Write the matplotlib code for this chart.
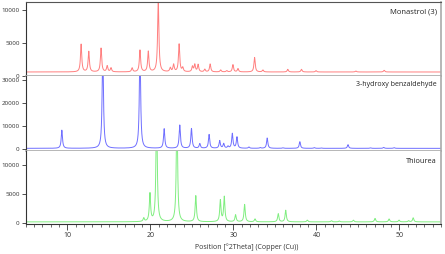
import matplotlib
matplotlib.use("Agg")
import matplotlib.pyplot as plt
from matplotlib.ticker import MultipleLocator
import numpy as np

# peak positions (deg 2theta) and heights (counts above baseline)
monastrol_pos = [11.66, 12.58, 14.06, 14.8, 15.26, 17.8, 18.75, 19.75, 20.95, 22.4,
                 22.8, 23.46, 23.9, 25.07, 25.35, 25.75, 26.55, 27.2, 28.47, 29.2,
                 29.94, 30.55, 32.55, 33.55, 36.55, 38.2, 39.95, 44.75, 48.15]
monastrol_int = [4200, 3100, 3600, 900, 600, 600, 3300, 3100, 11000, 600,
                 1100, 4200, 600, 800, 1100, 1100, 400, 1200, 300, 200,
                 1100, 500, 2200, 300, 400, 400, 200, 150, 250]
monastrol_base = 600

hba_pos = [9.34, 14.27, 18.75, 21.66, 23.54, 24.95, 25.95, 27.07, 28.35, 28.83,
           29.35, 29.87, 30.43, 31.87, 33.24, 34.07, 35.95, 38.0, 39.75, 40.6,
           43.8, 46.5, 48.1, 49.35]
hba_int = [7900, 45000, 45000, 8500, 10100, 8600, 2000, 6000, 3300, 2000,
           800, 6400, 4900, 550, 300, 4500, 200, 2900, 300, 150,
           1600, 200, 400, 300]
hba_base = 200

thio_pos = [19.2, 19.95, 20.75, 23.2, 25.47, 28.43, 28.9, 30.26, 31.35, 32.6,
            35.4, 36.3, 38.9, 41.8, 42.75, 44.45, 47.05, 48.75, 49.95, 51.1, 51.65]
thio_int = [600, 4800, 20000, 20000, 4500, 3700, 4300, 1200, 3000, 500,
            1400, 2000, 300, 200, 150, 300, 600, 500, 300, 200, 700]
thio_base = 200

labels = ["Monastrol (3)", "3-hydroxy benzaldehyde", "Thiourea"]
colors = ["#ff7f7f", "#6f6fff", "#80ee80"]


def pattern(x, pos, inten, base, width=0.09):
    y = np.full_like(x, base, dtype=float)
    for p, h in zip(pos, inten):
        y += h / (1 + ((x - p) / width) ** 2)
    return y


x = np.arange(5, 55.001, 0.005)
traces = [pattern(x, monastrol_pos, monastrol_int, monastrol_base),
          pattern(x, hba_pos, hba_int, hba_base),
          pattern(x, thio_pos, thio_int, thio_base)]

fig = plt.figure(figsize=(4.45, 2.54), dpi=100)
plt.rcParams['font.family'] = ['Open Sans', 'DejaVu Sans']

left, width = 0.058, 0.933
boxes = [(0.701, 0.291), (0.406, 0.295), (0.118, 0.288)]
ylims = [(0, 11200), (-900, 31700), (-170, 12450)]
yticks = [[0, 5000, 10000], [0, 10000, 20000, 30000], [0, 5000, 10000]]
label_y = [0.86, 0.89, 0.85]
label_size = [5.5, 5.0, 5.3]

for i, ax_box in enumerate(boxes):
    ax = fig.add_axes([left, ax_box[0], width, ax_box[1]])
    ax.plot(x, traces[i], color=colors[i], lw=0.7)
    ax.set_xlim(5, 55)
    ax.set_ylim(*ylims[i])
    ax.set_yticks(yticks[i])
    ax.tick_params(axis='y', labelsize=4.5, length=3, width=0.6,
                   colors='#333333', pad=1.5)
    for s in ['top', 'right', 'bottom']:
        ax.spines[s].set_color('#aaaaaa')
        ax.spines[s].set_linewidth(1.2)
    ax.spines['left'].set_color('#333333')
    ax.spines['left'].set_linewidth(0.8)
    if i == 0:
        ax.spines['top'].set_color('#555555')
        ax.spines['top'].set_linewidth(0.8)
    else:
        ax.spines['top'].set_visible(False)
    ax.text(0.99, label_y[i], labels[i], transform=ax.transAxes,
            ha='right', va='center', fontsize=label_size[i], color='#222222')
    if i < 2:
        ax.set_xticks([])
    else:
        ax.spines['bottom'].set_color('#333333')
        ax.spines['bottom'].set_linewidth(0.8)
        ax.xaxis.set_major_locator(MultipleLocator(10))
        ax.xaxis.set_minor_locator(MultipleLocator(1))
        ax.tick_params(axis='x', which='major', labelsize=5, length=4,
                       width=0.6, colors='#333333', pad=1.5)
        ax.tick_params(axis='x', which='minor', length=2, width=0.5,
                       colors='#333333')

fig.text(247 / 445, 1 - 247 / 254, "Position [°2Theta] (Copper (Cu))",
         ha='center', va='center', fontsize=5, color='#333333')

fig.savefig("out.png", dpi=100)
